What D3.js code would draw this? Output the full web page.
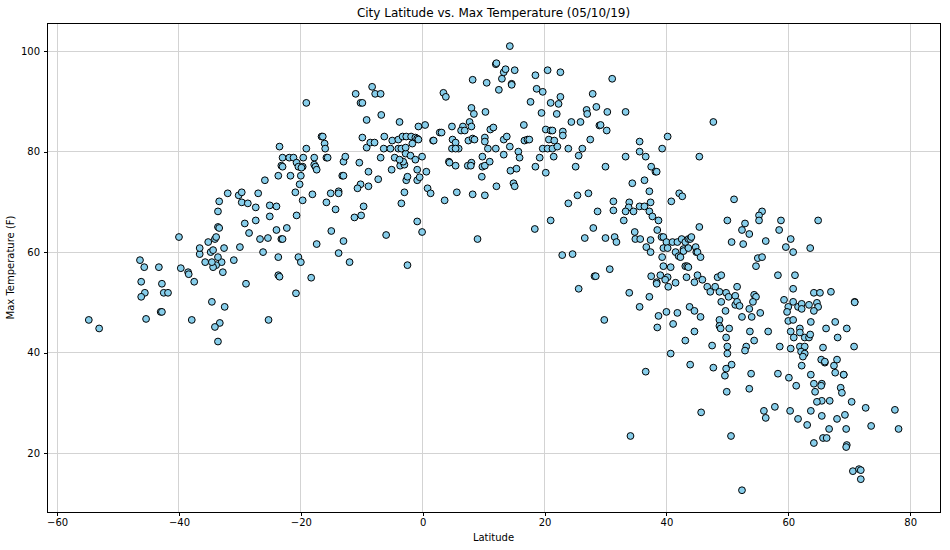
<!DOCTYPE html>
<html>
<head>
<meta charset="utf-8">
<script src="https://d3js.org/d3.v7.min.js"></script>
<style>
  body { margin: 0; background: #fff; }
  text { font-family: "DejaVu Sans", sans-serif; fill: #000; }
  .tick text { font-size: 10px; }
  line, rect { shape-rendering: crispEdges; }
</style>
</head>
<body>
<div id="scatter"></div>
<script>
var latitudes = [
  -54.8,-53.1,-46.4,-45.7,-43.3,-46.2,-42.8,-45.6,-46.2,-42.5,-41.8,-45.4,-43.0,-42.8,-40.0,-39.7,
  -38.5,-38.4,-37.5,-37.9,-34.6,-32.5,-33.3,-34.1,-33.6,-29.0,-32.8,-31.0,-33.0,-33.6,-33.9,-34.4,
  -34.6,-35.7,-36.6,-36.6,-34.8,-34.4,-32.6,-30.0,-35.2,-34.1,-33.9,-33.6,-33.4,-33.6,-33.4,-32.0,
  -30.2,-29.7,-29.7,-28.7,-27.0,-27.4,-25.1,-25.9,-29.2,-27.4,-25.1,-28.5,-26.7,-25.4,-26.2,-25.3,
  -24.0,-24.0,-22.3,-23.2,-23.0,-23.7,-23.7,-23.5,-20.4,-20.0,-18.3,-17.4,-20.7,-19.7,-20.9,-20.2,
  -21.7,-20.0,-23.7,-23.2,-23.0,-23.0,-21.9,-21.2,-23.5,-20.7,-20.4,-19.7,-19.9,-19.6,-19.1,-19.1,
  -18.1,-17.8,-17.8,-17.6,-17.4,-16.6,-16.4,-16.1,-16.0,-15.8,-15.6,-15.1,-15.8,-13.8,-13.8,-14.3,
  -15.0,-13.0,-13.8,-12.0,-13.2,-13.0,-13.0,-12.7,-10.4,-8.9,-10.2,-10.7,-8.9,-7.3,-9.7,-10.1,
  -11.2,-6.0,-2.5,-0.1,-0.9,-3.5,-3.0,0.8,1.3,-2.7,-2.5,-0.9,-0.5,-0.9,0.6,-5.1,
  -6.9,-4.6,-3.7,-3.0,-3.2,-3.8,-2.8,-2.0,-1.2,-0.1,-9.2,-9.9,-8.6,-7.9,-6.3,-6.4,
  -5.3,-4.0,-3.5,-2.8,-5.0,-4.0,-3.3,-2.7,-1.9,-1.2,-0.9,-0.7,-1.7,1.7,2.8,-0.7,
  0.4,-3.8,-6.8,-9.2,-10.2,-9.9,-11.0,-8.3,-7.8,-6.9,-20.8,
  14.3,12.0,12.1,13.3,13.6,15.1,13.0,8.2,10.5,14.6,14.6,12.5,18.5,20.5,22.6,18.7,
  19.7,31.1,27.9,22.6,21.0,22.3,17.7,19.5,22.0,28.5,26.9,27.0,30.3,33.3,24.4,25.9,
  29.0,29.2,30.2,16.6,10.3,8.0,8.4,7.7,8.0,4.8,3.1,3.4,3.8,6.6,6.3,6.9,
  11.1,11.6,4.9,5.4,4.8,5.9,5.4,7.5,8.2,8.5,10.2,10.2,10.7,12.0,13.3,13.8,
  14.3,16.7,17.2,17.5,20.2,21.0,21.3,23.0,23.0,20.7,21.6,19.7,20.5,21.3,22.1,23.9,
  26.2,27.5,15.7,15.9,13.3,9.8,4.3,4.4,5.4,7.4,8.0,7.9,9.8,10.2,11.0,9.7,
  14.4,15.4,18.5,19.2,21.5,20.2,25.6,25.1,30.0,33.3,12.1,14.9,15.1,5.6,8.2,10.2,
  3.6,23.9,25.4,27.2,28.7,31.3,31.3,33.9,33.8,33.3,33.0,21.0,18.4,28.0,9.0,1.8,
  47.7,40.2,35.6,35.6,39.3,36.6,45.4,37.5,38.2,38.4,36.4,34.4,37.2,42.1,42.6,51.1,
  40.8,34.6,35.6,36.4,37.4,37.2,37.7,38.7,45.4,50.0,50.7,26.6,30.0,31.5,31.8,34.8,
  34.9,35.7,37.4,38.5,39.2,39.5,40.0,41.0,41.8,42.5,43.1,43.6,43.9,44.1,36.7,37.4,
  39.5,40.2,42.8,42.8,43.6,44.8,44.9,45.1,41.5,42.0,42.3,39.3,45.6,22.9,24.6,39.5,
  40.7,43.1,43.4,43.6,30.7,28.2,28.4,37.5,39.0,40.2,39.8,38.4,38.4,41.5,40.3,43.3,
  44.6,45.1,45.9,48.4,49.0,46.7,47.2,48.0,48.7,49.8,50.2,51.3,51.6,49.0,51.3,51.6,
  52.0,49.7,25.6,33.9,37.2,35.6,29.8,38.7,40.0,41.8,43.8,44.6,45.6,41.1,38.5,44.6,
  43.1,48.7,48.7,48.9,50.3,49.8,47.5,50.0,50.0,40.7,43.9,47.7,49.8,50.7,36.6,45.7,34.1,
  55.7,55.2,55.2,52.9,58.8,64.9,52.4,53.6,58.5,60.4,52.6,56.3,59.6,60.8,63.6,55.0,
  55.7,54.7,58.3,61.1,60.8,64.2,65.2,67.0,54.4,54.7,54.2,59.3,60.8,53.6,60.0,59.8,
  61.6,62.2,62.2,63.4,64.7,64.9,64.2,70.9,70.9,52.4,54.0,55.4,60.0,60.8,63.7,67.7,
  53.7,56.7,60.4,61.9,61.9,66.2,69.6,68.1,54.4,60.9,62.7,63.4,63.6,53.1,52.9,58.6,
  60.4,61.9,62.7,62.1,65.7,70.8,62.7,62.4,62.2,65.4,66.0,66.0,68.0,67.5,67.7,49.6,
  53.9,58.3,60.1,63.7,69.1,69.1,
  49.9,53.6,61.3,64.2,65.5,65.4,68.6,68.8,64.4,65.5,64.7,66.8,70.4,72.7,77.5,57.8,
  56.0,56.3,60.3,63.7,61.6,65.5,68.0,69.3,63.1,73.6,78.1,66.7,69.5,50.6,65.7,66.3,
  64.2,69.6,69.5,70.6,71.6,71.9,71.9,52.4
];

var maxTemps = [
  46.5,44.8,58.4,57.0,57.0,54.1,53.7,51.9,51.1,51.9,51.9,46.7,48.1,48.1,63.0,56.8,
  56.0,55.6,54.1,46.5,50.1,49.1,45.9,45.1,42.2,53.7,56.0,58.4,58.0,59.0,57.4,57.0,
  58.0,58.0,59.6,60.8,60.0,60.4,60.8,61.0,62.0,62.6,63.0,65.0,64.8,68.1,70.1,71.7,
  71.3,71.9,69.9,69.7,71.7,68.9,69.3,74.3,65.7,66.3,67.1,63.8,62.6,62.8,60.0,46.5,
  69.1,64.4,64.8,62.6,62.6,59.0,55.4,55.1,59.0,58.0,54.9,61.6,67.3,70.3,71.9,73.5,
  75.2,75.2,75.2,77.2,77.0,78.8,78.8,78.8,81.0,77.8,77.0,77.0,76.8,78.8,80.6,89.7,
  71.5,78.8,77.4,77.0,76.4,83.0,83.0,81.6,80.6,78.8,78.8,71.7,69.9,72.1,71.7,68.5,
  64.2,62.2,59.8,58.0,75.2,75.2,78.0,79.0,77.8,76.0,73.5,72.7,73.1,74.5,69.1,67.3,
  66.9,63.4,57.4,64.0,66.1,69.7,71.9,72.7,71.7,74.3,75.0,74.3,74.9,76.4,76.0,76.4,
  78.8,78.8,77.2,77.4,78.0,78.4,79.6,79.2,78.4,79.0,80.8,82.8,81.8,81.8,83.0,80.6,
  80.6,80.6,80.6,80.8,82.2,82.4,83.0,83.0,83.0,82.8,82.6,82.4,81.6,82.2,83.8,85.0,
  85.3,85.9,87.3,86.3,89.7,89.7,91.5,92.9,91.5,91.5,51.8,
  101.0,97.4,97.6,95.8,96.4,96.2,94.5,94.3,93.7,93.5,93.3,92.3,95.2,96.2,95.8,92.5,
  91.9,94.5,91.5,90.9,89.7,89.5,89.9,87.7,87.5,88.9,88.3,87.5,87.9,87.9,85.9,85.9,
  85.2,85.3,84.2,85.3,87.9,88.7,87.5,85.9,85.0,85.0,83.8,91.7,90.9,85.0,84.2,84.2,
  84.4,84.8,82.4,81.8,80.6,80.6,80.6,82.2,82.6,82.4,82.8,82.0,80.6,80.6,82.4,83.0,
  81.0,82.2,82.4,82.4,84.4,84.2,84.2,84.0,83.2,82.4,82.2,80.6,80.6,80.6,81.0,80.6,
  80.6,82.4,80.0,78.8,79.4,79.0,78.0,77.8,77.2,77.2,77.8,77.2,77.0,77.2,78.0,75.0,
  76.2,76.6,77.0,78.8,79.0,75.8,79.2,77.0,77.0,79.0,73.1,73.7,73.1,71.9,71.5,71.3,
  70.3,69.7,71.3,71.7,68.1,70.1,68.3,69.9,68.9,68.1,66.3,66.3,64.6,64.8,62.6,82.2,
  85.9,83.0,82.0,80.0,80.6,79.0,79.0,77.0,76.0,76.0,74.3,73.7,72.1,71.7,71.1,70.5,
  70.1,68.1,69.1,69.1,69.9,68.1,67.1,66.3,65.0,66.3,62.0,62.8,62.8,63.0,62.0,64.0,
  62.6,62.6,62.4,64.4,63.0,63.0,62.0,62.0,62.0,62.6,62.0,62.6,62.6,63.0,61.0,60.0,
  60.8,60.8,60.6,60.2,60.8,61.0,60.0,60.0,60.0,59.2,59.0,59.0,59.0,59.4,59.6,57.2,
  57.0,57.2,57.2,57.0,56.6,55.2,55.2,55.2,55.4,55.0,54.5,54.0,53.7,53.9,53.1,55.0,
  54.0,55.4,54.5,55.0,55.4,53.1,52.1,53.1,52.1,51.9,51.1,51.3,53.1,50.1,49.5,50.1,
  49.3,48.3,52.7,51.9,51.1,49.1,46.5,47.3,48.1,47.9,49.1,48.3,47.1,45.7,45.0,44.2,
  42.4,46.5,45.3,44.8,44.8,43.0,41.4,41.2,39.8,39.8,37.6,37.0,36.8,37.6,36.2,28.1,23.4,
  68.1,67.3,66.3,65.7,66.3,66.3,64.4,63.6,64.4,62.6,61.6,62.2,61.0,60.0,60.8,58.8,
  59.0,57.2,55.4,55.4,52.7,51.9,51.9,52.1,51.5,51.1,50.1,50.5,50.1,48.7,49.1,48.1,
  49.1,49.7,48.7,49.5,49.9,49.1,48.3,50.1,50.0,47.1,47.1,47.9,46.3,46.5,46.1,46.1,
  44.2,44.2,44.2,44.8,44.0,44.8,44.8,43.0,42.4,43.0,43.0,43.0,43.6,41.2,40.4,41.2,
  40.8,41.2,41.2,40.2,41.0,41.2,39.8,39.2,37.4,38.6,38.0,38.2,38.6,37.4,36.0,35.4,
  35.8,35.8,35.0,35.6,35.6,35.6,
  32.2,32.8,33.4,33.8,33.8,33.4,33.0,32.0,32.2,30.4,30.2,30.4,30.2,29.0,28.6,29.2,
  28.4,27.0,28.4,28.4,26.8,27.4,26.8,27.6,25.6,25.4,24.8,24.8,24.8,23.4,23.0,23.0,
  22.0,21.6,21.2,16.4,16.8,16.6,14.8,12.6
];

var xTicks = [-60, -40, -20, 0, 20, 40, 60, 80];
var yTicks = [20, 40, 60, 80, 100];

var svgWidth = 950;
var svgHeight = 550;

var margin = {
  top: 23,
  right: 10,
  bottom: 38,
  left: 47
};

var width = svgWidth - margin.left - margin.right;
var height = svgHeight - margin.top - margin.bottom;

var svg = d3.select("#scatter")
  .append("svg")
  .attr("width", svgWidth)
  .attr("height", svgHeight)
  .style("display", "block");

var chartGroup = svg.append("g")
  .attr("transform", `translate(${margin.left}, ${margin.top})`);

var xLinearScale = d3.scaleLinear()
  .domain([-61.66, 84.9])
  .range([0, width]);

var yLinearScale = d3.scaleLinear()
  .domain([8.27, 105.6])
  .range([height, 0]);

// grid goes under the points
chartGroup.append("g")
  .selectAll("line")
  .data(xTicks)
  .enter()
  .append("line")
  .attr("x1", d => xLinearScale(d))
  .attr("x2", d => xLinearScale(d))
  .attr("y1", 0)
  .attr("y2", height)
  .attr("stroke", "#d3d3d3");

chartGroup.append("g")
  .selectAll("line")
  .data(yTicks)
  .enter()
  .append("line")
  .attr("x1", 0)
  .attr("x2", width)
  .attr("y1", d => yLinearScale(d))
  .attr("y2", d => yLinearScale(d))
  .attr("stroke", "#d3d3d3");

var cityData = d3.zip(latitudes, maxTemps);

chartGroup.append("g")
  .selectAll("circle")
  .data(cityData)
  .enter()
  .append("circle")
  .attr("cx", d => xLinearScale(d[0]))
  .attr("cy", d => yLinearScale(d[1]))
  .attr("r", 3.4)
  .attr("fill", "#87ceeb")
  .attr("stroke", "#000")
  .attr("stroke-width", 1);

// axes
var bottomAxis = d3.axisBottom(xLinearScale).tickValues(xTicks).tickSize(3.5).tickPadding(3.5);
var leftAxis = d3.axisLeft(yLinearScale).tickValues(yTicks).tickSize(3.5).tickPadding(3.5);

chartGroup.append("g")
  .attr("transform", `translate(0, ${height})`)
  .call(bottomAxis)
  .call(g => g.select(".domain").remove());

chartGroup.append("g")
  .call(leftAxis)
  .call(g => g.select(".domain").remove());

// frame
chartGroup.append("rect")
  .attr("width", width)
  .attr("height", height)
  .attr("fill", "none")
  .attr("stroke", "#000");

// labels
svg.append("text")
  .attr("x", margin.left + width / 2)
  .attr("y", 17)
  .attr("text-anchor", "middle")
  .attr("font-size", "12px")
  .text("City Latitude vs. Max Temperature (05/10/19)");

svg.append("text")
  .attr("x", margin.left + width / 2)
  .attr("y", 541)
  .attr("text-anchor", "middle")
  .attr("font-size", "10px")
  .text("Latitude");

svg.append("text")
  .attr("transform", `translate(14, ${margin.top + height / 2}) rotate(-90)`)
  .attr("text-anchor", "middle")
  .attr("font-size", "10px")
  .text("Max Temperature (F)");
</script>
</body>
</html>
